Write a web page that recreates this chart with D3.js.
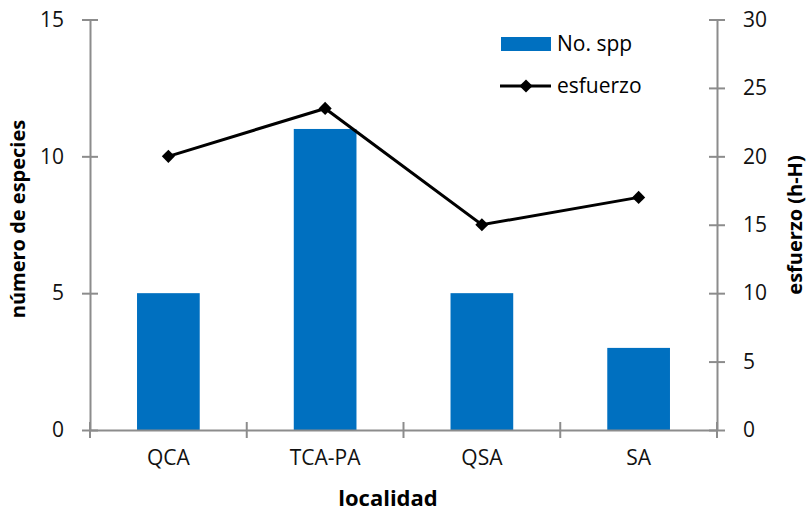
<!DOCTYPE html>
<html>
<head>
<meta charset="utf-8">
<script src="https://cdn.jsdelivr.net/npm/d3@7"></script>
<style>
    body { margin: 0; background: #fff; }
    text { font-family: "Open Sans", "Liberation Sans", sans-serif; }
</style>
</head>
<body>
<svg id="chart" width="807" height="512"></svg>
<script>
const localidades = ["QCA", "TCA-PA", "QSA", "SA"];
const noSpp = [5, 11, 5, 3];
const esfuerzo = [20, 23.5, 15, 17];
const leftTicks = [0, 5, 10, 15];
const rightTicks = [0, 5, 10, 15, 20, 25, 30];

function drawChart() {
    const svg = d3.select("#chart");
    const left = 90, right = 717, top = 19.5, bottom = 430;
    const axisColor = "#8c8c8c";

    const x = d3.scaleBand().domain(localidades).range([left, right]).paddingInner(0).paddingOuter(0);
    const yL = d3.scaleLinear().domain([0, 15]).range([bottom, top]);
    const yR = d3.scaleLinear().domain([0, 30]).range([bottom, top]);

    // bars
    const bw = x.bandwidth() * 0.4;
    svg.selectAll(".bar")
        .data(localidades)
        .join("rect")
        .attr("class", "bar")
        .attr("x", (d) => x(d) + (x.bandwidth() - bw) / 2)
        .attr("y", (d, i) => yL(noSpp[i]))
        .attr("width", bw)
        .attr("height", (d, i) => bottom - yL(noSpp[i]))
        .attr("fill", "#0070c0");

    // left axis
    const gL = svg.append("g")
        .attr("transform", `translate(${left},0)`)
        .call(d3.axisLeft(yL).tickValues(leftTicks).tickSizeInner(8).tickSizeOuter(0).tickPadding(18));
    gL.select(".domain").attr("stroke", axisColor).attr("stroke-width", 2);
    gL.selectAll(".tick line").attr("stroke", axisColor).attr("stroke-width", 2).attr("x2", 8).attr("x1", -8);
    gL.selectAll("text").style("font-size", "21px").attr("fill", "#111");

    // right axis
    const gR = svg.append("g")
        .attr("transform", `translate(${right},0)`)
        .call(d3.axisRight(yR).tickValues(rightTicks).tickSizeInner(8).tickSizeOuter(0).tickPadding(18));
    gR.select(".domain").attr("stroke", axisColor).attr("stroke-width", 2);
    gR.selectAll(".tick line").attr("stroke", axisColor).attr("stroke-width", 2).attr("x1", -8).attr("x2", 8);
    gR.selectAll("text").style("font-size", "21px").attr("fill", "#111");

    // bottom axis
    const gB = svg.append("g")
        .attr("transform", `translate(0,${bottom})`)
        .call(d3.axisBottom(x).tickSize(0).tickPadding(20));
    gB.select(".domain").attr("stroke", axisColor).attr("stroke-width", 2);
    gB.selectAll("text").style("font-size", "21px").attr("fill", "#111");
    const edges = localidades.map((d) => x(d)).concat([right]);
    gB.selectAll(".edge")
        .data(edges)
        .join("line")
        .attr("class", "edge")
        .attr("x1", (d) => d).attr("x2", (d) => d)
        .attr("y1", -8).attr("y2", 8)
        .attr("stroke", axisColor).attr("stroke-width", 2);

    // line
    const line = d3.line()
        .x((d, i) => x(localidades[i]) + x.bandwidth() / 2)
        .y((d) => yR(d));
    svg.append("path")
        .datum(esfuerzo)
        .attr("d", line)
        .attr("fill", "none")
        .attr("stroke", "#000")
        .attr("stroke-width", 3);

    const diamond = d3.symbol().type(d3.symbolDiamond2).size(110);
    svg.selectAll(".dot")
        .data(esfuerzo)
        .join("path")
        .attr("class", "dot")
        .attr("transform", (d, i) => `translate(${x(localidades[i]) + x.bandwidth() / 2},${yR(d)})`)
        .attr("d", diamond)
        .attr("fill", "#000");

    // axis titles
    svg.append("text")
        .attr("x", 388)
        .attr("y", 506)
        .attr("text-anchor", "middle")
        .style("font-size", "22px")
        .style("font-weight", "bold")
        .text("localidad");

    svg.append("text")
        .attr("transform", "translate(25,219) rotate(-90)")
        .attr("text-anchor", "middle")
        .style("font-size", "20px")
        .style("font-weight", "bold")
        .text("número de especies");

    svg.append("text")
        .attr("transform", "translate(802,225) rotate(-90)")
        .attr("text-anchor", "middle")
        .style("font-size", "20px")
        .style("font-weight", "bold")
        .text("esfuerzo (h-H)");

    // legend
    const lg = svg.append("g");
    lg.append("rect")
        .attr("x", 501).attr("y", 37).attr("width", 50).attr("height", 14)
        .attr("fill", "#0070c0");
    lg.append("text")
        .attr("x", 557).attr("y", 51)
        .style("font-size", "21px")
        .text("No. spp");
    lg.append("line")
        .attr("x1", 500).attr("x2", 551).attr("y1", 86).attr("y2", 86)
        .attr("stroke", "#000").attr("stroke-width", 3);
    lg.append("path")
        .attr("transform", "translate(526,86)")
        .attr("d", diamond)
        .attr("fill", "#000");
    lg.append("text")
        .attr("x", 557).attr("y", 93)
        .style("font-size", "21px")
        .text("esfuerzo");
}

drawChart();
</script>
</body>
</html>
